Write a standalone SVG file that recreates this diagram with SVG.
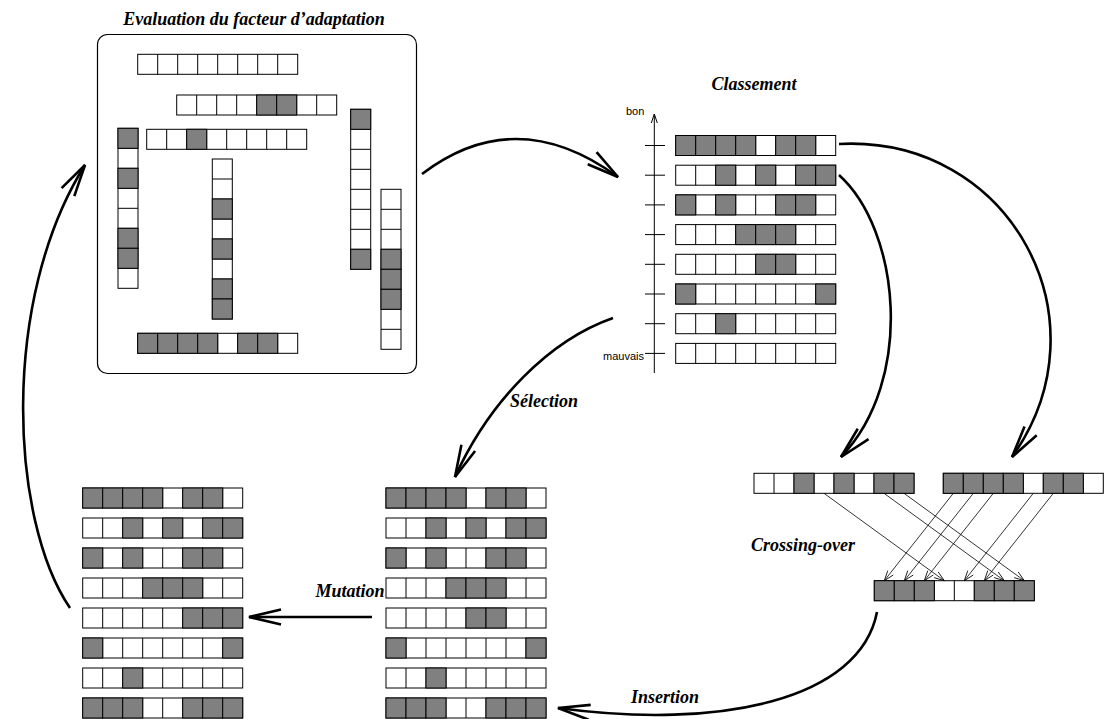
<svg xmlns="http://www.w3.org/2000/svg" xmlns:xlink="http://www.w3.org/1999/xlink" width="1105" height="719" viewBox="0 0 1105 719">
<style>
.w{fill:#fff;stroke:#000;stroke-width:1}
.s{fill:#808080;stroke:#000;stroke-width:1}
.ln{fill:none;stroke:#000;stroke-width:1}
.frame{fill:#fff;stroke:#000;stroke-width:1.2}
.big{fill:none;stroke:#000;stroke-width:2.6;marker-end:url(#bh)}
.thin{fill:none;stroke:#000;stroke-width:0.8;marker-end:url(#th)}
.axis{fill:none;stroke:#000;stroke-width:1;marker-end:url(#ah)}
.tick{fill:none;stroke:#000;stroke-width:1}
.lbl{font-family:"Liberation Serif","Times New Roman",serif;font-weight:bold;font-style:italic;font-size:18px;fill:#000}
.ax{font-family:"Liberation Sans",Arial,sans-serif;font-size:11px;fill:#000}
</style>
<defs>
<g id="hrow"><rect width="160" height="20" class="w"/><path class="ln" d="M20,0v20M40,0v20M60,0v20M80,0v20M100,0v20M120,0v20M140,0v20"/></g>
<g id="vrow"><rect width="20" height="160" class="w"/><path class="ln" d="M0,20h20M0,40h20M0,60h20M0,80h20M0,100h20M0,120h20M0,140h20"/></g>
<rect id="s" width="20" height="20" class="s"/>
<marker id="bh" markerUnits="userSpaceOnUse" orient="auto" style="overflow:visible" markerWidth="1" markerHeight="1"><path d="M-32,-7.5 L0,0 L-32,7.5" fill="none" stroke="#000" stroke-width="2.6"/></marker>
<marker id="th" markerUnits="userSpaceOnUse" orient="auto" style="overflow:visible" markerWidth="1" markerHeight="1"><path d="M-10,-3.5 L0,0 L-10,3.5" fill="none" stroke="#000" stroke-width="0.8"/></marker>
<marker id="ah" markerUnits="userSpaceOnUse" orient="auto" style="overflow:visible" markerWidth="1" markerHeight="1"><path d="M-9,-3 L0,0 L-9,3" fill="none" stroke="#000" stroke-width="1"/></marker>
</defs>
<rect width="1105" height="719" fill="#fff"/>

<g id="evaluation">
<text class="lbl" x="254" y="25" text-anchor="middle">Evaluation du facteur d’adaptation</text>
<rect x="97.5" y="34.5" width="319" height="339" rx="10" class="frame"/>
<g transform="translate(137.7,54.3)"><use xlink:href="#hrow"/></g>
<g transform="translate(176.7,95)"><use xlink:href="#hrow"/><use xlink:href="#s" x="80"/><use xlink:href="#s" x="100"/></g>
<g transform="translate(146.7,129.3)"><use xlink:href="#hrow"/><use xlink:href="#s" x="40"/></g>
<g transform="translate(118,128.3)"><use xlink:href="#vrow"/><use xlink:href="#s" y="0"/><use xlink:href="#s" y="40"/><use xlink:href="#s" y="100"/><use xlink:href="#s" y="120"/></g>
<g transform="translate(212.3,159)"><use xlink:href="#vrow"/><use xlink:href="#s" y="40"/><use xlink:href="#s" y="80"/><use xlink:href="#s" y="120"/><use xlink:href="#s" y="140"/></g>
<g transform="translate(350.7,109.3)"><use xlink:href="#vrow"/><use xlink:href="#s" y="0"/><use xlink:href="#s" y="140"/></g>
<g transform="translate(381,189.3)"><use xlink:href="#vrow"/><use xlink:href="#s" y="60"/><use xlink:href="#s" y="80"/><use xlink:href="#s" y="100"/></g>
<g transform="translate(137.7,333.3)"><use xlink:href="#hrow"/><use xlink:href="#s" x="0"/><use xlink:href="#s" x="20"/><use xlink:href="#s" x="40"/><use xlink:href="#s" x="60"/><use xlink:href="#s" x="100"/><use xlink:href="#s" x="120"/></g>
</g>

<g id="classement">
<text class="lbl" x="754" y="90" text-anchor="middle">Classement</text>
<text class="ax" x="626" y="115">bon</text>
<text class="ax" x="644" y="360" text-anchor="end">mauvais</text>
<path class="axis" d="M654.3,373 L654.3,114"/>
<path class="tick" d="M645,145.5h20M645,175.2h20M645,204.9h20M645,234.6h20M645,264.3h20M645,294h20M645,323.7h20M645,353.4h20"/>
<g transform="translate(675.7,135.5)"><use xlink:href="#hrow"/><use xlink:href="#s" x="0"/><use xlink:href="#s" x="20"/><use xlink:href="#s" x="40"/><use xlink:href="#s" x="60"/><use xlink:href="#s" x="100"/><use xlink:href="#s" x="120"/></g>
<g transform="translate(675.7,165.2)"><use xlink:href="#hrow"/><use xlink:href="#s" x="40"/><use xlink:href="#s" x="80"/><use xlink:href="#s" x="120"/><use xlink:href="#s" x="140"/></g>
<g transform="translate(675.7,194.9)"><use xlink:href="#hrow"/><use xlink:href="#s" x="0"/><use xlink:href="#s" x="40"/><use xlink:href="#s" x="100"/><use xlink:href="#s" x="120"/></g>
<g transform="translate(675.7,224.6)"><use xlink:href="#hrow"/><use xlink:href="#s" x="60"/><use xlink:href="#s" x="80"/><use xlink:href="#s" x="100"/></g>
<g transform="translate(675.7,254.3)"><use xlink:href="#hrow"/><use xlink:href="#s" x="80"/><use xlink:href="#s" x="100"/></g>
<g transform="translate(675.7,284)"><use xlink:href="#hrow"/><use xlink:href="#s" x="0"/><use xlink:href="#s" x="140"/></g>
<g transform="translate(675.7,313.7)"><use xlink:href="#hrow"/><use xlink:href="#s" x="40"/></g>
<g transform="translate(675.7,343.4)"><use xlink:href="#hrow"/></g>
</g>

<g id="selection-pop">
<g transform="translate(386,488)"><use xlink:href="#hrow"/><use xlink:href="#s" x="0"/><use xlink:href="#s" x="20"/><use xlink:href="#s" x="40"/><use xlink:href="#s" x="60"/><use xlink:href="#s" x="100"/><use xlink:href="#s" x="120"/></g>
<g transform="translate(386,518)"><use xlink:href="#hrow"/><use xlink:href="#s" x="40"/><use xlink:href="#s" x="80"/><use xlink:href="#s" x="120"/><use xlink:href="#s" x="140"/></g>
<g transform="translate(386,548)"><use xlink:href="#hrow"/><use xlink:href="#s" x="0"/><use xlink:href="#s" x="40"/><use xlink:href="#s" x="100"/><use xlink:href="#s" x="120"/></g>
<g transform="translate(386,578)"><use xlink:href="#hrow"/><use xlink:href="#s" x="60"/><use xlink:href="#s" x="80"/><use xlink:href="#s" x="100"/></g>
<g transform="translate(386,608)"><use xlink:href="#hrow"/><use xlink:href="#s" x="80"/><use xlink:href="#s" x="100"/></g>
<g transform="translate(386,638)"><use xlink:href="#hrow"/><use xlink:href="#s" x="0"/><use xlink:href="#s" x="140"/></g>
<g transform="translate(386,668)"><use xlink:href="#hrow"/><use xlink:href="#s" x="40"/></g>
<g transform="translate(386,698)"><use xlink:href="#hrow"/><use xlink:href="#s" x="0"/><use xlink:href="#s" x="20"/><use xlink:href="#s" x="40"/><use xlink:href="#s" x="100"/><use xlink:href="#s" x="120"/><use xlink:href="#s" x="140"/></g>
</g>

<g id="mutation-pop">
<g transform="translate(82.7,488)"><use xlink:href="#hrow"/><use xlink:href="#s" x="0"/><use xlink:href="#s" x="20"/><use xlink:href="#s" x="40"/><use xlink:href="#s" x="60"/><use xlink:href="#s" x="100"/><use xlink:href="#s" x="120"/></g>
<g transform="translate(82.7,518)"><use xlink:href="#hrow"/><use xlink:href="#s" x="40"/><use xlink:href="#s" x="80"/><use xlink:href="#s" x="120"/><use xlink:href="#s" x="140"/></g>
<g transform="translate(82.7,548)"><use xlink:href="#hrow"/><use xlink:href="#s" x="0"/><use xlink:href="#s" x="40"/><use xlink:href="#s" x="100"/><use xlink:href="#s" x="120"/></g>
<g transform="translate(82.7,578)"><use xlink:href="#hrow"/><use xlink:href="#s" x="60"/><use xlink:href="#s" x="80"/><use xlink:href="#s" x="100"/></g>
<g transform="translate(82.7,608)"><use xlink:href="#hrow"/><use xlink:href="#s" x="100"/><use xlink:href="#s" x="120"/><use xlink:href="#s" x="140"/></g>
<g transform="translate(82.7,638)"><use xlink:href="#hrow"/><use xlink:href="#s" x="0"/><use xlink:href="#s" x="140"/></g>
<g transform="translate(82.7,668)"><use xlink:href="#hrow"/><use xlink:href="#s" x="40"/></g>
<g transform="translate(82.7,698)"><use xlink:href="#hrow"/><use xlink:href="#s" x="0"/><use xlink:href="#s" x="20"/><use xlink:href="#s" x="40"/><use xlink:href="#s" x="100"/><use xlink:href="#s" x="120"/><use xlink:href="#s" x="140"/></g>
</g>

<g id="crossover">
<g id="parent1" transform="translate(754,473.3)"><use xlink:href="#hrow"/><use xlink:href="#s" x="40"/><use xlink:href="#s" x="80"/><use xlink:href="#s" x="120"/><use xlink:href="#s" x="140"/></g>
<g id="parent2" transform="translate(943.3,473.3)"><use xlink:href="#hrow"/><use xlink:href="#s" x="0"/><use xlink:href="#s" x="20"/><use xlink:href="#s" x="40"/><use xlink:href="#s" x="60"/><use xlink:href="#s" x="100"/><use xlink:href="#s" x="120"/></g>
<g id="child" transform="translate(874.3,580.7)"><use xlink:href="#hrow"/><use xlink:href="#s" x="0"/><use xlink:href="#s" x="20"/><use xlink:href="#s" x="40"/><use xlink:href="#s" x="100"/><use xlink:href="#s" x="120"/><use xlink:href="#s" x="140"/></g>
</g>

<g id="labels">
<text class="lbl" x="544" y="407" text-anchor="middle">Sélection</text>
<text class="lbl" x="803" y="551" text-anchor="middle">Crossing-over</text>
<text class="lbl" x="350" y="597" text-anchor="middle">Mutation</text>
<text class="lbl" x="665" y="703" text-anchor="middle">Insertion</text>
</g>

<g id="connectors">
<path class="big" d="M422,174 Q516,102.5 618,177"/>
<path class="big" d="M839,144 C1010,135 1110,320 1012,457"/>
<path class="big" d="M839,175 C900,230 915,380 841,457"/>
<path class="big" d="M613,318 C550,340 490,400 455,477"/>
<path class="big" d="M372,617 L249,617"/>
<path class="big" d="M877,612 C860,700 720,730 558,708"/>
<path class="big" d="M70,608 C10,520 0,300 85,165"/>
<path class="thin" d="M953.3,493.3 L884.3,580.7"/>
<path class="thin" d="M973.3,493.3 L904.3,580.7"/>
<path class="thin" d="M993.3,493.3 L924.3,580.7"/>
<path class="thin" d="M824,493.3 L944.3,580.7"/>
<path class="thin" d="M1033.3,493.3 L964.3,580.7"/>
<path class="thin" d="M1053.3,493.3 L984.3,580.7"/>
<path class="thin" d="M884,493.3 L1004.3,580.7"/>
<path class="thin" d="M904,493.3 L1024.3,580.7"/>
</g>
</svg>
